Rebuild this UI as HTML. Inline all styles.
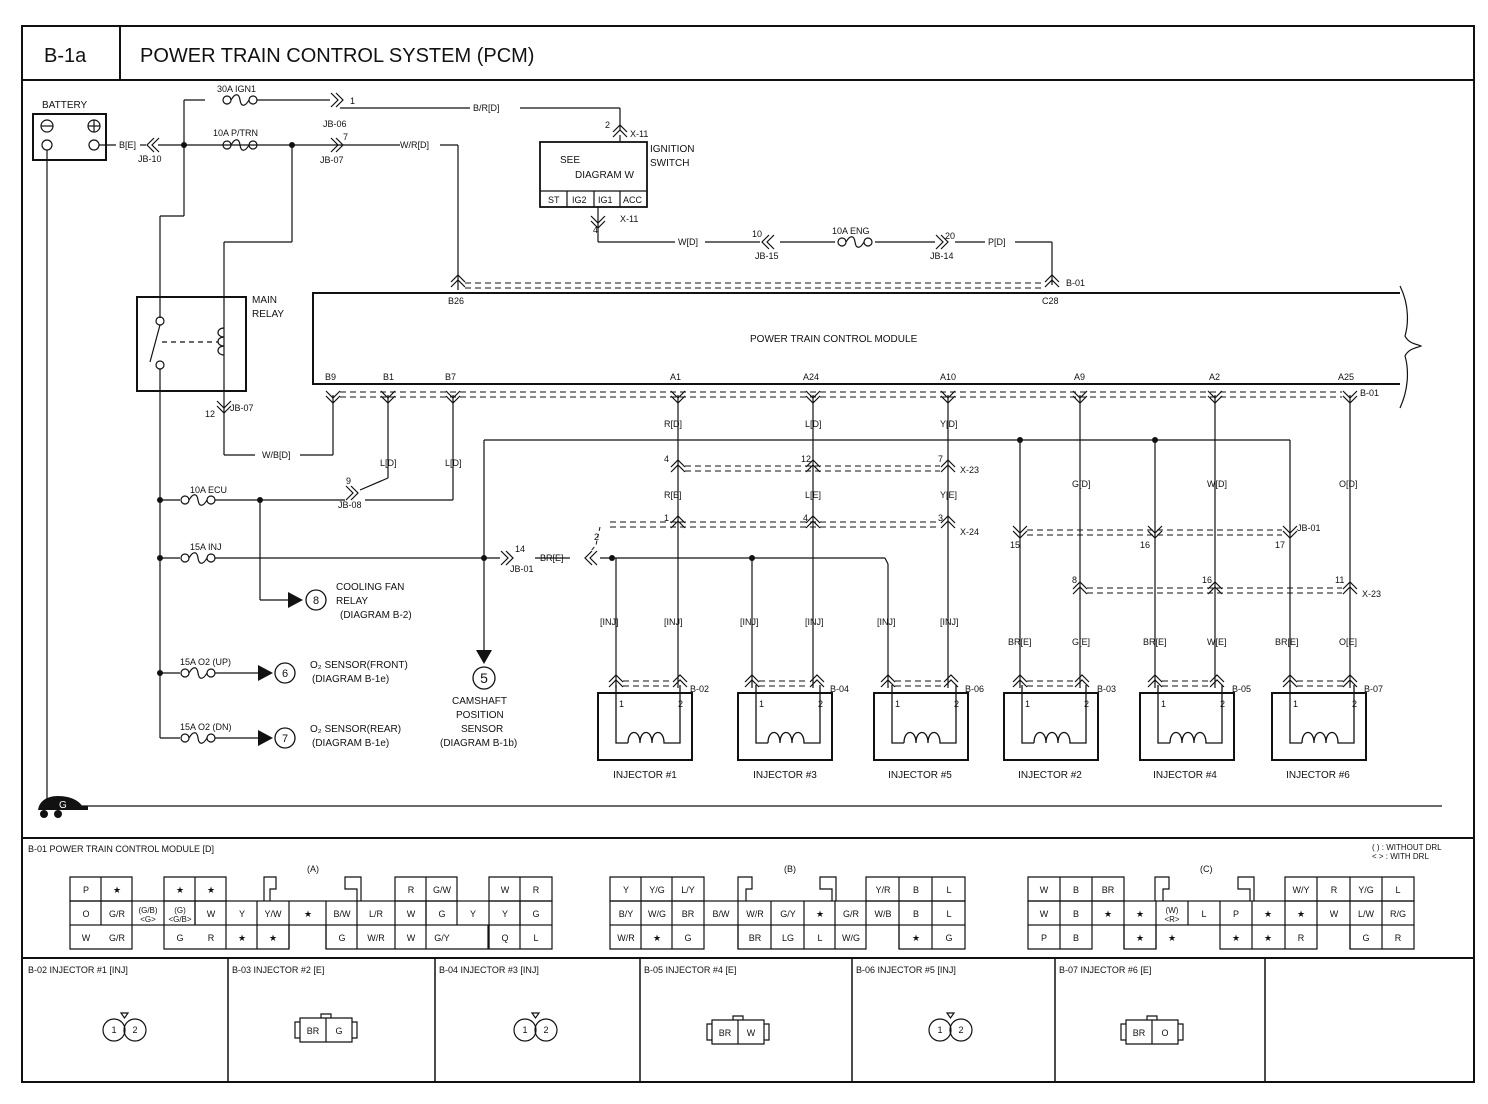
<!DOCTYPE html>
<html><head><meta charset="utf-8"><style>
body{margin:0;background:#fff}
svg{display:block}
text{font-family:"Liberation Sans",sans-serif;fill:#111}
.s{font-size:9px}.m{font-size:10px}.l{font-size:11px}
</style></head><body>
<svg width="1488" height="1104" viewBox="0 0 1488 1104" xmlns="http://www.w3.org/2000/svg">
<defs>
<g id="vu" fill="none" stroke="#111" stroke-width="1.2"><path d="M-7,4 L0,-3 L7,4 M-7,9 L0,2 L7,9"/></g>
<g id="vd" fill="none" stroke="#111" stroke-width="1.2"><path d="M-7,-4 L0,3 L7,-4 M-7,-9 L0,-2 L7,-9"/></g>
<g id="hl" fill="none" stroke="#111" stroke-width="1.2"><path d="M4,-7 L-3,0 L4,7 M9,-7 L2,0 L9,7"/></g>
<g id="hr" fill="none" stroke="#111" stroke-width="1.2"><path d="M-4,-7 L3,0 L-4,7 M-9,-7 L-2,0 L-9,7"/></g>
<g id="fuse" fill="none" stroke="#111" stroke-width="1.2"><circle cx="-13" cy="0" r="4"/><circle cx="13" cy="0" r="4"/><path d="M-9,0 C-5,-7 -1,-7 0,0 C1,7 5,7 9,0"/></g>
<g id="inj" fill="none" stroke="#111" stroke-width="1.3"><rect x="0" y="0" width="94" height="67" stroke-width="2"/><path d="M18,-8 V50 H30 M82,-8 V50 H70"/><path d="M30,50 c0,-14 12,-14 12,0 c0,-14 12,-14 12,0 c0,-14 12,-14 12,0 q2,0 4,0" /></g>
</defs>
<rect width="1488" height="1104" fill="#fff"/>
<g fill="none" stroke="#111" stroke-width="2">
<rect x="22" y="26" width="1452" height="1056"/>
<line x1="22" y1="80" x2="1474" y2="80"/>
<line x1="120" y1="26" x2="120" y2="80"/>
<line x1="22" y1="838" x2="1474" y2="838"/>
<line x1="22" y1="958" x2="1474" y2="958"/>
</g>
<g stroke="#111" stroke-width="1.5">
<line x1="228" y1="958" x2="228" y2="1082"/><line x1="435" y1="958" x2="435" y2="1082"/><line x1="640" y1="958" x2="640" y2="1082"/><line x1="852" y1="958" x2="852" y2="1082"/><line x1="1055" y1="958" x2="1055" y2="1082"/><line x1="1265" y1="958" x2="1265" y2="1082"/>
</g>
<text x="44" y="62" style="font-size:20px">B-1a</text>
<text x="140" y="62" style="font-size:20px">POWER TRAIN CONTROL SYSTEM (PCM)</text>

<g fill="none" stroke="#111" stroke-width="1.2">
<rect x="33" y="114" width="73" height="46" stroke-width="2"/>
<circle cx="47" cy="126" r="6"/><line x1="41" y1="126" x2="53" y2="126"/>
<circle cx="94" cy="126" r="6"/><line x1="88" y1="126" x2="100" y2="126"/><line x1="94" y1="120" x2="94" y2="132"/>
<circle cx="47" cy="145" r="5"/><circle cx="94" cy="145" r="5"/>
<line x1="99" y1="145" x2="116" y2="145"/>
<line x1="47" y1="150" x2="47" y2="806"/>
<line x1="140" y1="145" x2="146" y2="145"/>
<line x1="158" y1="145" x2="292" y2="145"/>
<line x1="184" y1="100" x2="184" y2="216"/><line x1="184" y1="100" x2="205" y2="100"/>
<line x1="184" y1="216" x2="160" y2="216"/><line x1="160" y1="216" x2="160" y2="318"/>
<line x1="292" y1="145" x2="292" y2="242"/><line x1="292" y1="242" x2="224" y2="242"/><line x1="224" y1="242" x2="224" y2="455"/>
<line x1="224" y1="455" x2="255" y2="455"/><line x1="300" y1="455" x2="333" y2="455"/><line x1="333" y1="455" x2="333" y2="395"/>
<line x1="257" y1="100" x2="330" y2="100"/><line x1="340" y1="108" x2="470" y2="108"/><line x1="520" y1="108" x2="620" y2="108"/><line x1="620" y1="108" x2="620" y2="130"/>
<line x1="292" y1="145" x2="400" y2="145"/><line x1="440" y1="145" x2="458" y2="145"/><line x1="458" y1="145" x2="458" y2="290"/>
<rect x="137" y="297" width="109" height="94" stroke-width="2"/>
<circle cx="160" cy="321" r="4"/><circle cx="160" cy="365" r="4"/><line x1="150" y1="362" x2="160" y2="325"/>
<line x1="162" y1="342" x2="218" y2="342" stroke-dasharray="5,4"/>
<path d="M224,328 c-8,0 -8,9 0,9 c-8,0 -8,9 0,9 c-8,0 -8,9 0,9"/>
<line x1="160" y1="369" x2="160" y2="738"/>
<rect x="540" y="142" width="107" height="65" stroke-width="1.8"/>
<line x1="540" y1="191" x2="647" y2="191"/>
<line x1="567" y1="191" x2="567" y2="207"/><line x1="594" y1="191" x2="594" y2="207"/><line x1="620" y1="191" x2="620" y2="207"/>
<line x1="620" y1="135" x2="620" y2="142"/>
<line x1="598" y1="207" x2="598" y2="242"/><line x1="598" y1="242" x2="675" y2="242"/><line x1="705" y1="242" x2="760" y2="242"/><line x1="780" y1="242" x2="835" y2="242"/><line x1="875" y1="242" x2="935" y2="242"/><line x1="955" y1="242" x2="985" y2="242"/><line x1="1015" y1="242" x2="1052" y2="242"/><line x1="1052" y1="242" x2="1052" y2="285"/>
<path d="M1400,293 H313 V384 H1400" stroke-width="2"/>
<path d="M1400,286 c10,20 8,40 5,50 c4,8 12,8 16,10 c-4,2 -12,2 -16,10 c3,10 5,30 -5,52" />
<line x1="388" y1="395" x2="388" y2="478"/><line x1="388" y1="478" x2="360" y2="490"/>
<line x1="453" y1="395" x2="453" y2="500"/><line x1="453" y1="500" x2="365" y2="500"/>
<line x1="160" y1="500" x2="180" y2="500"/><line x1="215" y1="500" x2="345" y2="500"/>
<line x1="260" y1="500" x2="260" y2="600"/><line x1="260" y1="600" x2="290" y2="600"/>
<line x1="160" y1="558" x2="180" y2="558"/><line x1="215" y1="558" x2="500" y2="558"/><line x1="535" y1="558" x2="570" y2="558"/>
<line x1="160" y1="673" x2="180" y2="673"/><line x1="215" y1="673" x2="258" y2="673"/>
<line x1="160" y1="738" x2="180" y2="738"/><line x1="215" y1="738" x2="258" y2="738"/>
<line x1="484" y1="440" x2="484" y2="655"/><line x1="484" y1="440" x2="1290" y2="440"/>
<line x1="600" y1="558" x2="885" y2="558"/><line x1="885" y1="558" x2="888" y2="564"/>
<line x1="616" y1="558" x2="616" y2="688"/><line x1="752" y1="558" x2="752" y2="688"/><line x1="888" y1="564" x2="888" y2="688"/>
<line x1="678" y1="395" x2="678" y2="688"/><line x1="813" y1="395" x2="813" y2="688"/><line x1="948" y1="395" x2="948" y2="688"/>
<line x1="1020" y1="440" x2="1020" y2="688"/><line x1="1155" y1="440" x2="1155" y2="688"/><line x1="1290" y1="440" x2="1290" y2="688"/>
<line x1="1080" y1="395" x2="1080" y2="688"/><line x1="1215" y1="395" x2="1215" y2="688"/><line x1="1350" y1="395" x2="1350" y2="688"/>
<line x1="80" y1="806" x2="1442" y2="806"/>
</g>
<g fill="none" stroke="#111" stroke-width="1" stroke-dasharray="6,4">
<path d="M465,283 H1045 M465,288 H1045"/>
<path d="M340,392 H1342 M340,397 H1342"/>
<path d="M685,466 H940 M685,471 H940"/>
<path d="M610,522 H940 M610,527 H940"/>
<path d="M1027,530 H1282 M1027,535 H1282"/>
<path d="M1087,588 H1342 M1087,593 H1342"/>
<path d="M623,681 H673 M623,686 H673 M759,681 H808 M759,686 H808 M895,681 H943 M895,686 H943 M1027,681 H1075 M1027,686 H1075 M1162,681 H1210 M1162,686 H1210 M1297,681 H1345 M1297,686 H1345"/>
</g>
<path d="M600,527 L596,545 L590,552" fill="none" stroke="#111" stroke-dasharray="4,3"/>
<use href="#hl" x="150" y="145"/><use href="#hr" x="340" y="100"/><use href="#hr" x="340" y="145"/>
<use href="#vu" x="620" y="128"/><use href="#vd" x="598" y="225"/>
<use href="#hl" x="765" y="242"/><use href="#hr" x="945" y="242"/>
<use href="#vu" x="458" y="278"/><use href="#vu" x="1052" y="278"/>
<use href="#vd" x="224" y="410"/>
<use href="#vd" x="333" y="400"/><use href="#vd" x="388" y="400"/><use href="#vd" x="453" y="400"/><use href="#vd" x="678" y="400"/><use href="#vd" x="813" y="400"/><use href="#vd" x="948" y="400"/><use href="#vd" x="1080" y="400"/><use href="#vd" x="1215" y="400"/><use href="#vd" x="1350" y="400"/>
<use href="#vu" x="678" y="463"/><use href="#vu" x="813" y="463"/><use href="#vu" x="948" y="463"/>
<use href="#vu" x="678" y="519"/><use href="#vu" x="813" y="519"/><use href="#vu" x="948" y="519"/>
<use href="#hr" x="355" y="493"/><use href="#hr" x="510" y="558"/><use href="#hl" x="588" y="558"/>
<use href="#vd" x="1020" y="535"/><use href="#vd" x="1155" y="535"/><use href="#vd" x="1290" y="535"/>
<use href="#vu" x="1080" y="585"/><use href="#vu" x="1215" y="585"/><use href="#vu" x="1350" y="585"/>
<g><use href="#vu" x="616" y="678"/><use href="#vu" x="680" y="678"/><use href="#vu" x="752" y="678"/><use href="#vu" x="817" y="678"/><use href="#vu" x="888" y="678"/><use href="#vu" x="951" y="678"/><use href="#vu" x="1020" y="678"/><use href="#vu" x="1082" y="678"/><use href="#vu" x="1155" y="678"/><use href="#vu" x="1217" y="678"/><use href="#vu" x="1290" y="678"/><use href="#vu" x="1350" y="678"/></g>
<use href="#fuse" x="240" y="100"/><use href="#fuse" x="240" y="145"/><use href="#fuse" x="855" y="242"/>
<use href="#fuse" x="198" y="500"/><use href="#fuse" x="198" y="558"/><use href="#fuse" x="198" y="673"/><use href="#fuse" x="198" y="738"/>
<g fill="#111"><circle cx="184" cy="145" r="3"/><circle cx="292" cy="145" r="3"/><circle cx="160" cy="500" r="3"/><circle cx="160" cy="558" r="3"/><circle cx="160" cy="673" r="3"/><circle cx="260" cy="500" r="3"/><circle cx="484" cy="558" r="3"/><circle cx="612" cy="558" r="3"/><circle cx="752" cy="558" r="3"/><circle cx="1020" cy="440" r="3"/><circle cx="1155" cy="440" r="3"/>
<path d="M288,592 L303,600 L288,608Z"/><path d="M258,665 L273,673 L258,681Z"/><path d="M258,730 L273,738 L258,746Z"/><path d="M476,650 L484,664 L492,650Z"/>
<path d="M38,812 c0,-10 8,-16 20,-16 c14,0 22,6 24,10 h6 v4 h-50 z"/><circle cx="44" cy="814" r="4"/><circle cx="58" cy="814" r="4"/></g>
<text x="59" y="808" class="m" style="fill:#fff">G</text>
<g fill="none" stroke="#111" stroke-width="1.3"><circle cx="316" cy="600" r="10"/><circle cx="285" cy="673" r="10"/><circle cx="285" cy="738" r="10"/><circle cx="484" cy="678" r="11"/></g>
<use href="#inj" x="598" y="693"/><use href="#inj" x="738" y="693"/><use href="#inj" x="874" y="693"/><use href="#inj" x="1004" y="693"/><use href="#inj" x="1140" y="693"/><use href="#inj" x="1272" y="693"/>
<g class="s">
<text x="619" y="707">1</text><text x="678" y="707">2</text><text x="759" y="707">1</text><text x="818" y="707">2</text><text x="895" y="707">1</text><text x="954" y="707">2</text><text x="1025" y="707">1</text><text x="1084" y="707">2</text><text x="1161" y="707">1</text><text x="1220" y="707">2</text><text x="1293" y="707">1</text><text x="1352" y="707">2</text>
</g>
<g class="m" text-anchor="middle">
<text x="645" y="778">INJECTOR #1</text><text x="785" y="778">INJECTOR #3</text><text x="920" y="778">INJECTOR #5</text><text x="1050" y="778">INJECTOR #2</text><text x="1185" y="778">INJECTOR #4</text><text x="1318" y="778">INJECTOR #6</text>
</g>
<g class="s">
<text x="42" y="108" class="m">BATTERY</text>
<text x="217" y="92">30A IGN1</text><text x="213" y="136">10A P/TRN</text>
<text x="119" y="148">B[E]</text><text x="138" y="162">JB-10</text>
<text x="350" y="104">1</text><text x="323" y="127">JB-06</text><text x="343" y="140">7</text><text x="320" y="163">JB-07</text>
<text x="473" y="111">B/R[D]</text><text x="400" y="148">W/R[D]</text>
<text x="605" y="128">2</text><text x="630" y="137">X-11</text>
<text x="650" y="152" class="m">IGNITION</text><text x="650" y="166" class="m">SWITCH</text>
<text x="560" y="163" class="m">SEE</text><text x="575" y="178" class="m">DIAGRAM W</text>
<text x="548" y="203">ST</text><text x="572" y="203">IG2</text><text x="598" y="203">IG1</text><text x="623" y="203">ACC</text>
<text x="620" y="222">X-11</text><text x="593" y="233">4</text>
<text x="678" y="245">W[D]</text><text x="752" y="237">10</text><text x="755" y="259">JB-15</text>
<text x="832" y="234">10A ENG</text><text x="945" y="239">20</text><text x="930" y="259">JB-14</text><text x="988" y="245">P[D]</text>
<text x="1066" y="286">B-01</text><text x="1042" y="304">C28</text><text x="448" y="304">B26</text>
<text x="252" y="303" class="m">MAIN</text><text x="252" y="317" class="m">RELAY</text>
<text x="750" y="342" class="m">POWER TRAIN CONTROL MODULE</text>
<text x="325" y="380">B9</text><text x="383" y="380">B1</text><text x="445" y="380">B7</text><text x="670" y="380">A1</text><text x="803" y="380">A24</text><text x="940" y="380">A10</text><text x="1074" y="380">A9</text><text x="1209" y="380">A2</text><text x="1338" y="380">A25</text><text x="1360" y="396">B-01</text>
<text x="230" y="411">JB-07</text><text x="205" y="417">12</text>
<text x="262" y="458">W/B[D]</text><text x="380" y="466">L[D]</text><text x="445" y="466">L[D]</text>
<text x="664" y="427">R[D]</text><text x="805" y="427">L[D]</text><text x="940" y="427">Y[D]</text>
<text x="664" y="462">4</text><text x="801" y="462">12</text><text x="938" y="462">7</text><text x="960" y="473">X-23</text>
<text x="664" y="498">R[E]</text><text x="805" y="498">L[E]</text><text x="940" y="498">Y[E]</text>
<text x="664" y="521">1</text><text x="803" y="521">4</text><text x="938" y="521">3</text><text x="960" y="535">X-24</text>
<text x="1072" y="487">G[D]</text><text x="1207" y="487">W[D]</text><text x="1339" y="487">O[D]</text>
<text x="1010" y="548">15</text><text x="1140" y="548">16</text><text x="1275" y="548">17</text><text x="1297" y="531">JB-01</text>
<text x="1072" y="583">8</text><text x="1202" y="583">16</text><text x="1335" y="583">11</text><text x="1362" y="597">X-23</text>
<text x="1008" y="645">BR[E]</text><text x="1072" y="645">G[E]</text><text x="1143" y="645">BR[E]</text><text x="1207" y="645">W[E]</text><text x="1275" y="645">BR[E]</text><text x="1339" y="645">O[E]</text>
<text x="600" y="625">[INJ]</text><text x="664" y="625">[INJ]</text><text x="740" y="625">[INJ]</text><text x="805" y="625">[INJ]</text><text x="877" y="625">[INJ]</text><text x="940" y="625">[INJ]</text>
<text x="690" y="692">B-02</text><text x="830" y="692">B-04</text><text x="965" y="692">B-06</text><text x="1097" y="692">B-03</text><text x="1232" y="692">B-05</text><text x="1364" y="692">B-07</text>
<text x="190" y="493">10A ECU</text><text x="346" y="484">9</text><text x="338" y="508">JB-08</text>
<text x="190" y="550">15A INJ</text><text x="515" y="552">14</text><text x="510" y="572">JB-01</text><text x="540" y="561">BR[E]</text><text x="594" y="540">2</text>
<text x="180" y="665">15A O2 (UP)</text><text x="180" y="730">15A O2 (DN)</text>
<text x="336" y="590" class="m">COOLING FAN</text><text x="336" y="604" class="m">RELAY</text><text x="340" y="618" class="m">(DIAGRAM B-2)</text>
<text x="310" y="668" class="m">O₂ SENSOR(FRONT)</text><text x="312" y="682" class="m">(DIAGRAM B-1e)</text>
<text x="310" y="732" class="m">O₂ SENSOR(REAR)</text><text x="312" y="746" class="m">(DIAGRAM B-1e)</text>
<text x="452" y="704" class="m">CAMSHAFT</text><text x="456" y="718" class="m">POSITION</text><text x="461" y="732" class="m">SENSOR</text><text x="440" y="746" class="m">(DIAGRAM B-1b)</text>
</g>
<g class="l" text-anchor="middle"><text x="316" y="604">8</text><text x="285" y="677">6</text><text x="285" y="742">7</text><text x="484" y="683" style="font-size:14px">5</text></g>

<text x="28" y="852" class="s">B-01 POWER TRAIN CONTROL MODULE [D]</text>
<text x="1372" y="850" class="s" style="font-size:8px">(  ) : WITHOUT DRL</text><text x="1372" y="859" class="s" style="font-size:8px">&lt;  &gt; : WITH DRL</text>
<text x="307" y="872" class="s">(A)</text><text x="784" y="872" class="s">(B)</text><text x="1200" y="872" class="s">(C)</text>
<g fill="none" stroke="#111" stroke-width="1.2">
<path d="M70,877h62v24h-62z M101,877v48 M164,877h62v24h-62z M195,877v48 M395,877h62v24h-62z M426,877v48 M489,877h63v24h-63z M520,877v48"/>
<path d="M264,901v-24h12v12h-6v12 M357,901v-12h-12v-12h16v24"/>
<rect x="70" y="901" width="482" height="24"/>
<path d="M132,901v24 M164,901v24 M195,901v24 M226,901v48 M257,901v48 M289,901v48 M326,901v48 M357,901v48 M395,901v48 M426,901v48 M457,901v24 M489,901v48 M520,901v48"/>
<path d="M70,925v24h62v-24 M164,925v24h125v-24 M326,925v24h162v-24 M489,925v24h63v-24"/>
<path d="M610,877h94v24h-94z M641,877v24 M672,877v24 M866,877h99v24h-99z M899,877v24 M932,877v24"/>
<path d="M738,901v-24h14v12h-6v12 M832,901v-12h-12v-12h16v24"/>
<rect x="610" y="901" width="355" height="24"/>
<path d="M641,901v48 M672,901v48 M704,901v24 M738,901v48 M771,901v48 M804,901v48 M835,901v48 M866,901v24 M899,901v48 M932,901v48"/>
<path d="M610,925v24h94v-24 M738,925v24h128v-24 M899,925v24h66v-24"/>
<path d="M1028,877h96v24h-96z M1060,877v24 M1092,877v24 M1285,877h129v24h-129z M1317,877v24 M1350,877v24 M1382,877v24"/>
<path d="M1155,901v-24h14v12h-6v12 M1250,901v-12h-12v-12h16v24"/>
<rect x="1028" y="901" width="386" height="24"/>
<path d="M1060,901v48 M1092,901v24 M1124,901v48 M1156,901v48 M1188,901v24 M1220,901v24 M1252,901v48 M1285,901v48 M1317,901v24 M1350,901v48 M1382,901v48"/>
<path d="M1028,925v24h64v-24 M1124,925v24h32v-24 M1220,925v24h97v-24 M1350,925v24h64v-24"/>
</g>
<g class="s" text-anchor="middle">
<text x="86" y="893">P</text><text x="117" y="893">★</text><text x="180" y="893">★</text><text x="211" y="893">★</text><text x="411" y="893">R</text><text x="442" y="893">G/W</text><text x="505" y="893">W</text><text x="536" y="893">R</text>
<text x="86" y="917">O</text><text x="117" y="917">G/R</text><text x="148" y="913" style="font-size:8px">(G/B)</text><text x="148" y="922" style="font-size:8px">&lt;G&gt;</text><text x="180" y="913" style="font-size:8px">(G)</text><text x="180" y="922" style="font-size:8px">&lt;G/B&gt;</text><text x="211" y="917">W</text><text x="242" y="917">Y</text><text x="273" y="917">Y/W</text><text x="308" y="917">★</text><text x="342" y="917">B/W</text><text x="376" y="917">L/R</text><text x="411" y="917">W</text><text x="442" y="917">G</text><text x="473" y="917">Y</text><text x="505" y="917">Y</text><text x="536" y="917">G</text>
<text x="86" y="941">W</text><text x="117" y="941">G/R</text><text x="180" y="941">G</text><text x="211" y="941">R</text><text x="242" y="941">★</text><text x="273" y="941">★</text><text x="342" y="941">G</text><text x="376" y="941">W/R</text><text x="411" y="941">W</text><text x="442" y="941">G/Y</text><text x="505" y="941">Q</text><text x="536" y="941">L</text>
<text x="626" y="893">Y</text><text x="657" y="893">Y/G</text><text x="688" y="893">L/Y</text><text x="883" y="893">Y/R</text><text x="916" y="893">B</text><text x="949" y="893">L</text>
<text x="626" y="917">B/Y</text><text x="657" y="917">W/G</text><text x="688" y="917">BR</text><text x="721" y="917">B/W</text><text x="755" y="917">W/R</text><text x="788" y="917">G/Y</text><text x="820" y="917">★</text><text x="851" y="917">G/R</text><text x="883" y="917">W/B</text><text x="916" y="917">B</text><text x="949" y="917">L</text>
<text x="626" y="941">W/R</text><text x="657" y="941">★</text><text x="688" y="941">G</text><text x="755" y="941">BR</text><text x="788" y="941">LG</text><text x="820" y="941">L</text><text x="851" y="941">W/G</text><text x="916" y="941">★</text><text x="949" y="941">G</text>
<text x="1044" y="893">W</text><text x="1076" y="893">B</text><text x="1108" y="893">BR</text><text x="1301" y="893">W/Y</text><text x="1334" y="893">R</text><text x="1366" y="893">Y/G</text><text x="1398" y="893">L</text>
<text x="1044" y="917">W</text><text x="1076" y="917">B</text><text x="1108" y="917">★</text><text x="1140" y="917">★</text><text x="1172" y="913" style="font-size:8px">(W)</text><text x="1172" y="922" style="font-size:8px">&lt;R&gt;</text><text x="1204" y="917">L</text><text x="1236" y="917">P</text><text x="1268" y="917">★</text><text x="1301" y="917">★</text><text x="1334" y="917">W</text><text x="1366" y="917">L/W</text><text x="1398" y="917">R/G</text>
<text x="1044" y="941">P</text><text x="1076" y="941">B</text><text x="1140" y="941">★</text><text x="1172" y="941">★</text><text x="1236" y="941">★</text><text x="1268" y="941">★</text><text x="1301" y="941">R</text><text x="1366" y="941">G</text><text x="1398" y="941">R</text>
</g>
<g class="s">
<text x="28" y="973">B-02 INJECTOR #1 [INJ]</text><text x="232" y="973">B-03 INJECTOR #2 [E]</text><text x="439" y="973">B-04 INJECTOR #3 [INJ]</text><text x="644" y="973">B-05 INJECTOR #4 [E]</text><text x="856" y="973">B-06 INJECTOR #5 [INJ]</text><text x="1059" y="973">B-07 INJECTOR #6 [E]</text>
</g>
<g fill="none" stroke="#111" stroke-width="1.2">
<circle cx="114" cy="1030" r="11"/><circle cx="135" cy="1030" r="11"/><path d="M121,1013h7l-3.5,5z"/>
<circle cx="525" cy="1030" r="11"/><circle cx="546" cy="1030" r="11"/><path d="M532,1013h7l-3.5,5z"/>
<circle cx="940" cy="1030" r="11"/><circle cx="961" cy="1030" r="11"/><path d="M947,1013h7l-3.5,5z"/>
<path d="M300,1018h52v24h-52z M326,1018v24 M295,1022h5v16h-5z M352,1022h5v16h-5z M321,1014h10v4h-10z"/>
<path d="M712,1020h52v24h-52z M738,1020v24 M707,1024h5v16h-5z M764,1024h5v16h-5z M733,1016h10v4h-10z"/>
<path d="M1126,1020h52v24h-52z M1152,1020v24 M1121,1024h5v16h-5z M1178,1024h5v16h-5z M1147,1016h10v4h-10z"/>
</g>
<g class="s" text-anchor="middle">
<text x="114" y="1033">1</text><text x="135" y="1033">2</text><text x="525" y="1033">1</text><text x="546" y="1033">2</text><text x="940" y="1033">1</text><text x="961" y="1033">2</text>
<text x="313" y="1034">BR</text><text x="339" y="1034">G</text><text x="725" y="1036">BR</text><text x="751" y="1036">W</text><text x="1139" y="1036">BR</text><text x="1165" y="1036">O</text>
</g>
</svg>
</body></html>
